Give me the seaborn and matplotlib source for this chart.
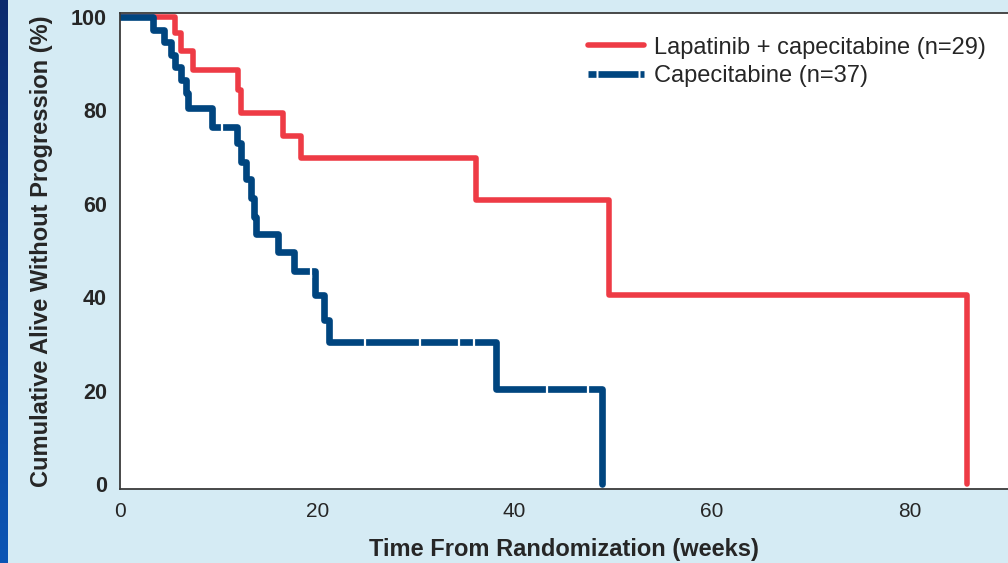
import matplotlib
matplotlib.use("Agg")
import matplotlib.pyplot as plt
from matplotlib.colors import LinearSegmentedColormap
from matplotlib.lines import Line2D
import numpy as np
import pandas as pd
import seaborn as sns

# Kaplan-Meier steps (weeks, % alive without progression)
lap_weeks = [0, 5.6, 6.2, 7.4, 12.0, 12.3, 16.5, 18.3, 36.1, 49.6, 85.8]
lap_pct = [100, 96.6, 92.8, 88.6, 84.4, 79.5, 74.6, 69.8, 60.8, 40.5, 0]

cap_weeks = [0, 3.3, 4.5, 5.2, 5.6, 6.2, 6.7, 6.9, 9.3, 11.9, 12.3, 12.8, 13.3,
             13.6, 13.8, 16.0, 17.6, 19.8, 20.7, 21.2, 38.1, 48.9]
cap_pct = [100, 97.3, 94.6, 91.9, 89.2, 86.5, 83.8, 80.6, 76.5, 73.0, 69.0,
           65.3, 61.2, 57.1, 53.6, 49.6, 45.7, 40.6, 35.2, 30.4, 20.3, 0]

# censored observations on the capecitabine arm (show as small gaps in the line)
cens_weeks = [10.3, 19.4, 24.8, 30.4, 34.4, 35.9, 43.3, 47.4]
cens_pct = [76.5, 45.7, 30.4, 30.4, 30.4, 30.4, 20.3, 20.3]

arm_labels = ["Lapatinib + capecitabine (n=29)", "Capecitabine (n=37)"]
arm_colors = ["#ee3b45", "#00457f"]
x_ticks = [0, 20, 40, 60, 80]
y_ticks = [0, 20, 40, 60, 80, 100]

lap = pd.DataFrame({"week": lap_weeks, "pct": lap_pct})
cap = pd.DataFrame({"week": cap_weeks, "pct": cap_pct})
cens = pd.DataFrame({"week": cens_weeks, "pct": cens_pct})

sns.set_style("white")
plt.rcParams["font.family"] = ["Liberation Sans", "DejaVu Sans"]

bg = "#d5ebf4"
fig = plt.figure(figsize=(10.08, 5.63), dpi=100, facecolor=bg)
ax = fig.add_axes([0.119, 0.131, 0.881, 0.846])
ax.set_facecolor("white")

sns.lineplot(data=lap, x="week", y="pct", drawstyle="steps-post", color=arm_colors[0],
             linewidth=4.0, estimator=None, sort=False, ax=ax)
sns.lineplot(data=cap, x="week", y="pct", drawstyle="steps-post", color=arm_colors[1],
             linewidth=4.8, estimator=None, sort=False, ax=ax)
sns.scatterplot(data=cens, x="week", y="pct", marker="|", color="white", s=90,
                linewidth=1.6, ax=ax, zorder=5)

ax.set_xlim(0, 90)
ax.set_ylim(-1.07, 100.86)
ax.set_xticks(x_ticks)
ax.set_yticks(y_ticks)
ax.tick_params(axis="both", direction="out", length=6.5, width=1.2, color="#333333")
ax.tick_params(axis="x", labelsize=15, pad=3)
ax.tick_params(axis="y", labelsize=15.5, pad=3)
for lab in ax.get_yticklabels():
    lab.set_fontweight("bold")
ax.set_xlabel("Time From Randomization (weeks)", fontsize=17, fontweight="bold", labelpad=12)
ax.set_ylabel("Cumulative Alive Without Progression (%)", fontsize=17, fontweight="bold", labelpad=13)

for side in ["left", "bottom", "top"]:
    ax.spines[side].set_color("#3a3a3a")
    ax.spines[side].set_linewidth(1.3)
ax.spines["right"].set_visible(False)

handles = [Line2D([], [], color=arm_colors[0], linewidth=4.0),
           Line2D([], [], color=arm_colors[1], linewidth=4.8,
                  linestyle=(0, (1.2, 0.3, 6.0, 0.3, 1.2, 0.3)))]
fig.legend(handles, arm_labels, loc="upper left", bbox_to_anchor=(0.583, 0.935),
           frameon=False, fontsize=17, handlelength=2.4, handletextpad=0.4,
           labelspacing=0.27, borderpad=0, borderaxespad=0)

# dark blue strip along the left edge
strip = fig.add_axes([0, 0, 0.007, 1])
cmap = LinearSegmentedColormap.from_list("strip", ["#0a2a6e", "#0b55b5"])
strip.imshow(np.linspace(0, 1, 256).reshape(-1, 1), aspect="auto", cmap=cmap)
strip.axis("off")

fig.savefig("out.png", dpi=100, facecolor=bg)
